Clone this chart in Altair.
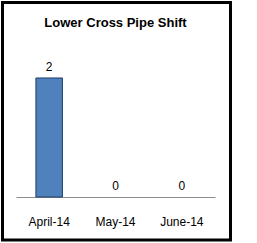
import altair as alt
import pandas as pd

months = ["April-14", "May-14", "June-14"]
counts = [2, 0, 0]
title_text = "Lower Cross Pipe Shift"

df = pd.DataFrame({"month": months, "count": counts})

PAD_L, PAD_T = 16, 50
W, H = 199, 147

x = alt.X("month:N", sort=months,
          scale=alt.Scale(paddingInner=0.6, paddingOuter=0.3),
          axis=alt.Axis(title=None, labelAngle=0, domainColor="#8c8c8c", ticks=False,
                        labelFont="Liberation Sans", labelFontSize=12, labelColor="#000000",
                        labelPadding=19))
y = alt.Y("count:Q", scale=alt.Scale(domain=[0, 2.47], nice=False), axis=None)

bars = alt.Chart(df).transform_filter("datum.count > 0").mark_bar(
    color="#4f81bd", stroke="#1f3f6b", strokeWidth=1).encode(x=x, y=y)
labels = alt.Chart(df).mark_text(dy=-11, font="Liberation Sans", fontSize=12, color="#000000").encode(
    x=x, y=y, text="count:Q")

title = alt.Chart(pd.DataFrame({"t": [title_text]})).mark_text(
    font="Liberation Sans", fontSize=13, fontWeight="bold", color="#000000",
    baseline="alphabetic", align="center").encode(
    x=alt.value(115.5 - PAD_L), y=alt.value(27 - PAD_T), text="t:N")

border = alt.Chart(pd.DataFrame({"a": [0]})).mark_rect(
    fill=None, stroke="#000000", strokeWidth=3, clip=False).encode(
    x=alt.value(2.5 - PAD_L), x2=alt.value(230.5 - PAD_L),
    y=alt.value(2.5 - PAD_T), y2=alt.value(240 - PAD_T))

chart = alt.layer(bars, labels, title, border).properties(
    width=W, height=H,
    padding={"left": PAD_L, "top": PAD_T, "right": 257 - PAD_L - W, "bottom": 243 - PAD_T - H},
    autosize=alt.AutoSizeParams(type="none"),
    background="white",
).configure_view(strokeWidth=0)

chart.save("out.html", embed_options={"renderer": "svg", "actions": False})
